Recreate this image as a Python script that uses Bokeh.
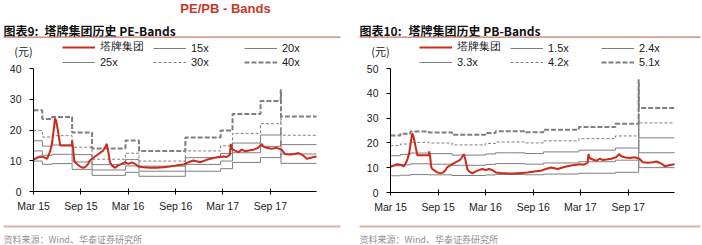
import pandas as pd
from bokeh.plotting import figure
from bokeh.layouts import row
from bokeh.models import (ColumnDataSource, Label, Legend, LegendItem, FixedTicker,
                          DatetimeTickFormatter, Range1d, BoxAnnotation)
from bokeh.embed import file_html
from bokeh.resources import INLINE

# ---------------- data ----------------
price_dates = [
    "2015-03-02", "2015-03-15", "2015-03-28", "2015-04-10", "2015-04-23", "2015-04-29",
    "2015-05-06", "2015-05-12", "2015-05-18", "2015-05-24", "2015-05-28", "2015-06-02",
    "2015-06-08", "2015-06-13", "2015-07-28", "2015-07-29", "2015-08-02", "2015-08-06",
    "2015-08-10", "2015-08-16", "2015-08-29", "2015-09-10", "2015-09-20", "2015-09-29",
    "2015-10-05", "2015-10-18", "2015-10-31", "2015-11-13", "2015-11-26", "2015-12-07",
    "2015-12-09", "2015-12-16", "2015-12-22", "2015-12-29", "2016-01-11", "2016-01-23",
    "2016-02-05", "2016-02-18", "2016-03-02", "2016-03-15", "2016-03-28", "2016-04-10",
    "2016-04-29", "2016-05-25", "2016-06-19", "2016-07-15", "2016-08-10", "2016-09-05",
    "2016-10-01", "2016-10-19", "2016-11-08", "2016-12-04", "2016-12-29", "2017-01-24",
    "2017-02-13", "2017-03-03", "2017-03-16", "2017-03-29", "2017-04-01", "2017-04-05",
    "2017-04-18", "2017-05-01", "2017-05-14", "2017-05-27", "2017-06-09", "2017-06-28",
    "2017-07-16", "2017-07-29", "2017-08-05", "2017-08-18", "2017-09-06", "2017-09-26",
    "2017-10-14", "2017-10-27", "2017-11-16", "2017-12-05", "2017-12-18", "2017-12-31",
    "2018-01-13", "2018-01-19", "2018-02-01", "2018-02-14", "2018-02-26",
]
price = [
    10.4, 10.9, 11.4, 11.2, 10.6, 11.7,
    13.3, 15.5, 19.3, 23.8, 23.1, 20.9,
    17.7, 15.0, 15.0, 16.6, 13.9, 10.1,
    9.5, 9.0, 8.1, 7.7, 8.1, 9.0,
    10.1, 10.9, 11.7, 12.5, 13.3, 15.0,
    15.5, 12.8, 9.5, 8.5, 7.7, 8.5,
    9.0, 9.5, 9.0, 9.5, 9.0, 8.1,
    7.9, 7.7, 7.7, 7.9, 8.1, 8.5,
    8.8, 9.5, 10.1, 9.5, 10.3, 10.9,
    11.2, 11.4, 11.2, 12.0, 15.5, 13.9,
    13.3, 12.8, 13.6, 13.1, 13.3, 13.6,
    14.2, 15.5, 14.6, 14.2, 13.9, 14.2,
    13.6, 12.2, 12.0, 12.2, 12.5, 12.0,
    11.2, 10.6, 10.9, 11.2, 11.4,
]

eps_dates = ["2015-03-02", "2015-04-05", "2015-05-13", "2015-07-29", "2015-10-14",
             "2016-02-20", "2016-04-12", "2016-10-08", "2017-02-21", "2017-04-08",
             "2017-07-25", "2017-10-11", "2017-10-12", "2018-02-26"]
eps = [0.66, 0.59, 0.605, 0.48, 0.35, 0.415, 0.33, 0.44, 0.495, 0.63, 0.735, 0.825, 0.61, 0.61]
pe_multiples = [15, 20, 25, 30, 40]
pe_labels = ["15x", "20x", "25x", "30x", "40x"]

bps_dates = ["2015-03-02", "2015-04-09", "2015-05-17", "2015-07-27", "2015-10-25",
             "2016-03-01", "2016-04-09", "2016-07-31", "2016-10-10", "2017-02-23",
             "2017-07-14", "2017-10-11", "2017-10-12", "2018-02-26"]
bps = [4.50, 4.65, 4.82, 4.75, 4.57, 4.71, 4.85, 4.76, 4.96, 5.17, 5.43, 8.90, 6.68, 6.68]
pb_multiples = [1.5, 2.4, 3.3, 4.2, 5.1]
pb_labels = ["1.5x", "2.4x", "3.3x", "4.2x", "5.1x"]

tick_dates = ["2015-03-02", "2015-09-01", "2016-03-01", "2016-09-01", "2017-03-01", "2017-09-01"]
tick_labels = ["Mar 15", "Sep 15", "Mar 16", "Sep 16", "Mar 17", "Sep 17"]

x_start, x_end = "2015-03-02", "2018-02-26"
stock_name = "塔牌集团"
main_title = "PE/PB - Bands"
source_text = "资料来源：Wind、华泰证券研究所"

RED = "#cc2a1a"
GRAY = "#7f7f7f"
W, H = 351, 245


def ms(d):
    return pd.Timestamp(d).value / 1e6


def make_panel(fig_no, sub, band_dates, base, multiples, mult_labels, ymax,
               fl, fr, ft, fb, left0, show_main):
    # fl, fr: canvas x of frame (plot area) left/right; ft, fb: canvas y top/bottom
    x0, x1 = ms(x_start), ms(x_end)
    mspp = (x1 - x0) / (fr - fl)
    upp = ymax / (fb - ft)
    xr = Range1d(x0 - fl * mspp, x1 + (W - fr) * mspp)
    yr = Range1d(-(H - fb) * upp, ymax + ft * upp)
    p = figure(width=W, height=H, x_axis_type="datetime", output_backend="svg",
               toolbar_location=None, min_border=0, min_border_left=0, min_border_right=0,
               min_border_top=0, min_border_bottom=0, x_range=xr, y_range=yr)
    p.outline_line_color = None
    p.background_fill_color = "white"
    p.border_fill_color = "white"
    p.xgrid.grid_line_color = None
    p.ygrid.grid_line_color = None

    bsrc = {"date": pd.to_datetime(band_dates)}
    for m in multiples:
        bsrc["m" + str(m)] = [b * m for b in base]
    bsrc = ColumnDataSource(bsrc)
    styles = [dict(line_width=1), dict(line_width=1), dict(line_width=1),
              dict(line_width=1, line_dash="3 2"), dict(line_width=2, line_dash="5 2")]
    rends = []
    for m, st in zip(multiples, styles):
        r = p.step(x="date", y="m" + str(m), source=bsrc, mode="after", line_color=GRAY, **st)
        rends.append(r)

    psrc = ColumnDataSource({"date": pd.to_datetime(price_dates), "price": price})
    red = p.line(x="date", y="price", source=psrc, line_color=RED, line_width=2)

    # axes placed at the plot-area edges
    xa = p.xaxis[0]
    xa.fixed_location = 0
    xa.bounds = (x0, x1)
    xa.ticker = FixedTicker(ticks=[ms(d) for d in tick_dates])
    xa.formatter = DatetimeTickFormatter(days="%b %y", months="%b %y", years="%b %y")
    xa.major_label_overrides = {ms(d): t for d, t in zip(tick_dates, tick_labels)}
    ya = p.yaxis[0]
    ya.fixed_location = x0
    ya.bounds = (0, ymax)
    ya.ticker = FixedTicker(ticks=list(range(0, ymax + 1, 10)))
    for ax in (xa, ya):
        ax.axis_line_color = "black"
        ax.major_tick_line_color = "black"
        ax.minor_tick_line_color = None
        ax.major_label_text_font = "Liberation Sans"
        ax.major_label_text_font_size = "10.5px"
        ax.major_label_text_color = "#1a1a1a"
    xa.major_tick_in = 3
    xa.major_tick_out = 3
    xa.major_label_standoff = 5
    ya.major_tick_in = 0
    ya.major_tick_out = 4
    ya.major_label_standoff = 8

    # legends: three columns of two rows
    cols = [[(stock_name, red), (mult_labels[2], rends[2])],
            [(mult_labels[0], rends[0]), (mult_labels[3], rends[3])],
            [(mult_labels[1], rends[1]), (mult_labels[4], rends[4])]]
    for ci, col in enumerate(cols):
        lg = Legend(items=[LegendItem(label=l, renderers=[r]) for l, r in col],
                    location=(fl + 29 + 91 * ci, H - 68), padding=0, margin=0, spacing=2,
                    glyph_width=33, glyph_height=12, label_height=12, label_standoff=5,
                    border_line_color=None, background_fill_alpha=0,
                    label_text_font="Liberation Sans", label_text_font_size="11px",
                    label_text_color="#1a1a1a")
        p.add_layout(lg, "center")

    def sy(cy):
        return H - cy

    if show_main:
        p.add_layout(Label(x=225, y=sy(8), x_units="screen", y_units="screen",
                           text=main_title, text_align="center", text_baseline="middle",
                           text_font="Liberation Sans", text_font_style="bold",
                           text_font_size="13px", text_color="#c8382b"))
    p.add_layout(Label(x=left0, y=sy(30), x_units="screen", y_units="screen",
                       text="图表" + fig_no + ":", text_align="left", text_baseline="middle",
                       text_font="Noto Sans CJK SC", text_font_style="bold",
                       text_font_size="12px", text_color="#111111"))
    p.add_layout(Label(x=left0 + 41 + (8 if fig_no == "10" else 0), y=sy(30),
                       x_units="screen", y_units="screen",
                       text=sub, text_align="left", text_baseline="middle",
                       text_font="Noto Sans CJK SC", text_font_style="bold",
                       text_font_size="12px", text_color="#111111"))
    r0 = W - 2 if fig_no == "10" else 340
    p.add_layout(BoxAnnotation(left=left0, right=r0, top=sy(36), bottom=sy(37.2),
                               left_units="screen", right_units="screen",
                               top_units="screen", bottom_units="screen",
                               fill_color="#c9776b", fill_alpha=1, line_color=None))
    p.add_layout(BoxAnnotation(left=left0, right=r0, top=sy(225), bottom=sy(227),
                               left_units="screen", right_units="screen",
                               top_units="screen", bottom_units="screen",
                               fill_color="#dbb1a8", fill_alpha=1, line_color=None))
    p.add_layout(Label(x=fl - 10, y=sy(50), x_units="screen", y_units="screen",
                       text="(元)", text_align="center", text_baseline="middle",
                       text_font="Noto Sans CJK SC", text_font_size="11px", text_color="#1a1a1a"))
    p.add_layout(Label(x=left0, y=sy(239), x_units="screen", y_units="screen",
                       text=source_text, text_align="left", text_baseline="middle",
                       text_font="Noto Sans CJK SC", text_font_size="9px", text_color="#909090"))
    return p


p1 = make_panel("9", stock_name + "历史 PE-Bands", eps_dates, eps, pe_multiples,
                pe_labels, 40, 33, 316, 68, 191, 3, True)
p2 = make_panel("10", stock_name + "历史 PB-Bands", bps_dates, bps, pb_multiples,
                pb_labels, 50, 39, 323, 68, 192, 8, False)

layout = row(p1, p2, spacing=0)
open("out.html", "w").write(file_html(layout, INLINE))
